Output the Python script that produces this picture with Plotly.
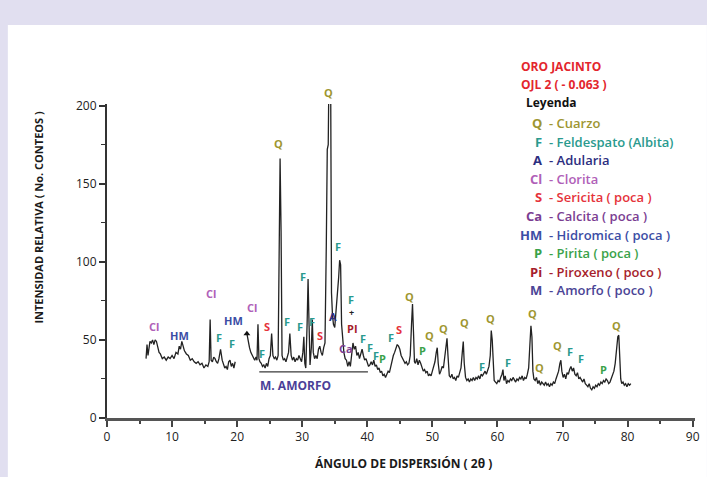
import plotly.graph_objects as go

# ---------------- data ----------------
seg1_x = [6.0, 6.15, 6.3, 6.45, 6.6, 6.8, 7.0, 7.2, 7.4, 7.6, 7.8, 8.0, 8.2, 8.5, 8.8, 9.1, 9.4, 9.7,
          10.0, 10.3, 10.6, 10.9, 11.1, 11.3, 11.5, 11.7, 11.9, 12.2, 12.5, 12.8, 13.1, 13.4, 13.7,
          14.0, 14.3, 14.6, 14.9, 15.2, 15.5, 15.7, 15.85, 16.0, 16.2, 16.4, 16.6, 16.8, 17.0, 17.2,
          17.45, 17.7, 17.9, 18.1, 18.3, 18.5, 18.7, 18.9, 19.1, 19.3, 19.5, 19.7]
seg1_y = [38, 47, 40, 46, 49, 48, 50, 47, 50, 49, 45, 42, 41, 38, 39, 37, 39, 38,
          40, 38, 42, 41, 46, 44, 49, 45, 43, 41, 40, 37, 38, 36, 35,
          36, 34, 35, 32, 34, 33, 36, 63, 37, 36, 39, 38, 36, 35, 38,
          44, 37, 34, 32, 33, 31, 36, 37, 33, 35, 32, 36]

seg2_x = [21.5, 21.7, 21.9, 22.1, 22.3, 22.5, 22.7, 22.9, 23.05, 23.2, 23.35, 23.5, 23.7, 23.9, 24.1,
          24.3, 24.5, 24.7, 24.9, 25.1, 25.3, 25.5, 25.7, 25.9, 26.1, 26.3, 26.45, 26.6, 26.75, 26.9,
          27.1, 27.3, 27.5, 27.7, 27.9, 28.1, 28.3, 28.5, 28.7, 28.9, 29.1, 29.3, 29.5, 29.7, 29.9,
          30.1, 30.25, 30.4, 30.55, 30.75, 30.9, 31.05, 31.2, 31.4, 31.55, 31.7, 31.9, 32.1, 32.3,
          32.5, 32.7, 32.9, 33.1, 33.3, 33.5, 33.7, 33.85, 34.0, 34.15, 34.35, 34.5, 34.65, 34.8,
          35.0, 35.2, 35.4, 35.6, 35.75, 35.9, 36.05, 36.2, 36.4, 36.6, 36.8, 37.0, 37.2, 37.4,
          37.6, 37.8, 38.0, 38.2, 38.4, 38.6, 38.8, 39.0, 39.2, 39.4, 39.6, 39.8, 40.0, 40.2, 40.4,
          40.6, 40.8, 41.0, 41.2, 41.4, 41.6, 41.8, 42.0, 42.2, 42.4, 42.6, 42.8, 43.0, 43.2, 43.4,
          43.6, 43.8, 44.0, 44.2, 44.4, 44.6, 44.8, 45.0, 45.2, 45.4, 45.6, 45.8, 46.0, 46.2, 46.4,
          46.6, 46.8, 46.95, 47.1, 47.25, 47.4, 47.6, 47.8, 48.0, 48.2, 48.4, 48.6, 48.8, 49.0,
          49.2, 49.4, 49.6, 49.8, 50.0, 50.2, 50.4, 50.6, 50.75, 50.9, 51.1, 51.3, 51.5, 51.7,
          51.9, 52.1, 52.25, 52.4, 52.6, 52.8, 53.0, 53.2, 53.4, 53.6, 53.8, 54.0, 54.2, 54.4,
          54.6, 54.75, 54.9, 55.1, 55.3, 55.5, 55.7, 55.9, 56.1, 56.3, 56.5, 56.7, 56.9, 57.1,
          57.3, 57.5, 57.7, 57.9, 58.1, 58.3, 58.5, 58.7, 58.9, 59.05, 59.2, 59.35, 59.5, 59.7,
          59.9, 60.1, 60.3, 60.5, 60.7, 60.85, 61.0, 61.2, 61.4, 61.6, 61.8, 62.0, 62.2, 62.4,
          62.6, 62.8, 63.0, 63.2, 63.4, 63.6, 63.8, 64.0, 64.2, 64.4, 64.6, 64.8, 65.0, 65.15,
          65.3, 65.45, 65.6, 65.8, 66.0, 66.2, 66.4, 66.6, 66.8, 67.0, 67.2, 67.4, 67.6, 67.8,
          68.0, 68.2, 68.4, 68.6, 68.8, 69.0, 69.2, 69.4, 69.6, 69.75, 69.9, 70.1, 70.3, 70.5,
          70.7, 70.9, 71.1, 71.3, 71.5, 71.7, 71.9, 72.1, 72.3, 72.5, 72.7, 72.9, 73.1, 73.3,
          73.5, 73.7, 73.9, 74.1, 74.3, 74.5, 74.7, 74.9, 75.1, 75.3, 75.5, 75.7, 75.9, 76.1,
          76.3, 76.5, 76.7, 76.9, 77.1, 77.3, 77.5, 77.7, 77.9, 78.1, 78.3, 78.5, 78.65, 78.8,
          78.95, 79.1, 79.3, 79.5, 79.7, 79.9, 80.1, 80.3, 80.5]
seg2_y = [54, 48, 45, 42, 40, 38, 37, 39, 37, 60, 38, 36, 35, 33, 34,
          32, 35, 33, 38, 40, 54, 40, 38, 39, 37, 40, 110, 166, 120, 40,
          37, 38, 36, 40, 42, 54, 40, 37, 39, 36, 38, 37, 40, 38, 36,
          42, 52, 35, 32, 60, 89, 60, 34, 45, 63, 42, 38, 40, 38,
          44, 46, 42, 40, 45, 48, 110, 172, 175, 240, 240, 80, 66, 60,
          58, 68, 75, 90, 101, 98, 60, 50, 42, 38, 37, 33, 36, 33,
          42, 48, 44, 46, 40, 42, 38, 41, 44, 40, 37, 38, 35, 33, 34,
          36, 34, 37, 33, 34, 31, 32, 29, 30, 27, 28, 26, 28, 30, 29,
          33, 36, 40, 42, 45, 47, 46, 44, 40, 38, 37, 35, 36, 34, 35,
          40, 60, 73, 55, 36, 35, 38, 34, 37, 35, 33, 30, 31, 29,
          30, 27, 28, 27, 30, 33, 36, 42, 45, 35, 28, 30, 33, 32,
          38, 44, 51, 40, 27, 26, 28, 25, 26, 24, 27, 26, 29, 32,
          42, 49, 35, 26, 24, 25, 23, 25, 24, 26, 24, 26, 25, 27,
          25, 28, 27, 29, 30, 28, 31, 33, 40, 56, 50, 30, 24, 23,
          22, 24, 23, 26, 28, 31, 24, 27, 22, 24, 23, 25, 24, 26,
          24, 23, 25, 24, 26, 25, 27, 24, 26, 25, 28, 32, 48, 59,
          52, 30, 25, 24, 26, 22, 24, 21, 23, 22, 21, 23, 21, 22,
          20, 22, 21, 23, 22, 25, 28, 30, 35, 37, 30, 26, 28, 25,
          29, 28, 31, 33, 30, 32, 28, 27, 29, 25, 26, 24, 23, 25,
          22, 21, 20, 22, 19, 18, 20, 19, 21, 20, 22, 21, 23, 22,
          24, 23, 25, 24, 22, 23, 25, 27, 30, 35, 45, 52, 53, 40,
          25, 22, 23, 21, 22, 20, 22, 21, 22]

arrow_x = [21.5]
arrow_y = [54]

amorfo_x = [23.4, 40.1]
amorfo_y = [29.5, 29.5]

# peak labels
lbl_text = ["Cl", "HM", "Cl", "F", "F", "HM", "Cl", "S", "F", "Q", "F", "F", "F", "F", "S", "Q",
            "A", "F", "F", "+", "PI", "Ca", "F", "F", "F", "P", "F", "S", "Q", "P", "Q", "Q", "Q",
            "Q", "F", "F", "Q", "Q", "Q", "F", "F", "P", "Q"]
lbl_min = ["Cl", "HM", "Cl", "F", "F", "HM", "Cl", "S", "F", "Q", "F", "F", "F", "F", "S", "Q",
           "A", "F", "F", "plus", "Pi", "Ca", "F", "F", "F", "P", "F", "S", "Q", "P", "Q", "Q", "Q",
           "Q", "F", "F", "Q", "Q", "Q", "F", "F", "P", "Q"]
lbl_x = [7.24, 11.12, 15.92, 17.22, 19.28, 19.5, 22.32, 24.58, 23.82, 26.36, 27.63, 30.17, 29.67,
         31.54, 32.72, 33.98, 34.74, 35.5, 37.53, 37.53, 37.79, 36.77, 39.31, 40.34, 41.34, 42.36,
         43.63, 44.9, 46.43, 48.46, 49.6, 51.66, 54.93, 58.97, 57.6, 61.67, 65.42, 66.54, 69.29,
         71.19, 72.84, 76.34, 78.28]
lbl_y = [58.6, 52.8, 79.7, 51.5, 47.4, 62.7, 70.7, 58.4, 41.4, 175.8, 61.6, 90.4, 58.4, 61.6, 53.1,
         208.5, 64.8, 109.6, 76.0, 67.5, 57.0, 44.6, 51.0, 45.1, 40.3, 38.2, 51.6, 56.8, 77.6, 42.9,
         53.1, 57.6, 61.4, 63.7, 32.8, 35.8, 67.0, 32.6, 46.1, 42.6, 38.2, 31.0, 59.2]

legend_sym = ["Q", "F", "A", "Cl", "S", "Ca", "HM", "P", "Pi", "M"]
legend_txt = ["- Cuarzo", "- Feldespato (Albita)", "- Adularia", "- Clorita", "- Sericita ( poca )",
              "- Calcita ( poca )", "- Hidromica ( poca )", "- Pirita ( poca )", "- Piroxeno ( poco )",
              "- Amorfo ( poco )"]
title_lines = ["ORO JACINTO", "OJL 2 ( - 0.063 )"]
legend_head = "Leyenda"
amorfo_text = "M. AMORFO"

x_title = "ÁNGULO DE DISPERSIÓN ( 2\u03b8 )"
y_title = "INTENSIDAD RELATIVA ( No. CONTEOS )"

colors = {"Q": "#9E9632", "F": "#2A9A8E", "A": "#2C2E80", "Cl": "#B060B8", "S": "#E5333B",
          "Ca": "#7B3E92", "HM": "#3C4EA5", "P": "#3AA24A", "Pi": "#A61E2C", "M": "#4B4596",
          "plus": "#222222"}

# ---------------- layout geometry ----------------
W, H = 707, 477
ML, MR, MT, MB = 107, 7, 104, 59
PW, PH = W - ML - MR, H - MT - MB
XPX, YPX = 6.5625, 1.5625   # pixels per unit
YMAX = PH / YPX
FONT = "Open Sans"


def px2paper_x(px):
    return (px - ML) / PW


def px2paper_y(py):
    return (H - MB - py) / PH


fig = go.Figure()

line_col = "#222222"
fig.add_trace(go.Scatter(x=seg1_x, y=seg1_y, mode="lines",
                         line=dict(color=line_col, width=1.3), showlegend=False, hoverinfo="skip"))
fig.add_trace(go.Scatter(x=seg2_x, y=seg2_y, mode="lines",
                         line=dict(color=line_col, width=1.3), showlegend=False, hoverinfo="skip"))
fig.add_trace(go.Scatter(x=amorfo_x, y=amorfo_y, mode="lines",
                         line=dict(color="#3a3a3a", width=1.2), showlegend=False, hoverinfo="skip"))
fig.add_trace(go.Scatter(x=arrow_x, y=arrow_y, mode="markers",
                         marker=dict(symbol="triangle-up", size=6, color="#111"),
                         showlegend=False, hoverinfo="skip"))

ann = []
for t, m, x, y in zip(lbl_text, lbl_min, lbl_x, lbl_y):
    size = 9 if m == "plus" else 11
    ann.append(dict(x=x, y=y / YMAX, xref="x", yref="paper", text="<b>%s</b>" % t, showarrow=False,
                    font=dict(family=FONT, size=size, color=colors[m]),
                    xanchor="center", yanchor="middle"))

ann.append(dict(x=28.9, y=21.1, xref="x", yref="y", text="<b>%s</b>" % amorfo_text, showarrow=False,
                font=dict(family=FONT, size=12, color="#4B3F98"), xanchor="center", yanchor="middle"))

# header + legend block
head_px = [67, 85]
for t, py in zip(title_lines, head_px):
    ann.append(dict(x=px2paper_x(522), y=px2paper_y(py), xref="paper", yref="paper",
                    text="<b>%s</b>" % t, showarrow=False, xanchor="left", yanchor="middle",
                    font=dict(family=FONT, size=12, color="#E3262D")))
ann.append(dict(x=px2paper_x(528), y=px2paper_y(103), xref="paper", yref="paper",
                text="<b>%s</b>" % legend_head, showarrow=False, xanchor="left", yanchor="middle",
                font=dict(family=FONT, size=12, color="#111111")))
row0, drow = 123, 18.6
for i, (s, t) in enumerate(zip(legend_sym, legend_txt)):
    py = row0 + i * drow
    c = colors[s]
    ann.append(dict(x=px2paper_x(548), y=px2paper_y(py), xref="paper", yref="paper",
                    text="<b>%s</b>" % s, showarrow=False, xanchor="right", yanchor="middle",
                    font=dict(family=FONT, size=13, color=c)))
    ann.append(dict(x=px2paper_x(551), y=px2paper_y(py), xref="paper", yref="paper",
                    text=t, showarrow=False, xanchor="left", yanchor="middle",
                    font=dict(family=FONT, size=13, color=c, weight=600)))

# axis titles
ann.append(dict(x=px2paper_x(406), y=px2paper_y(463), xref="paper", yref="paper",
                text="<b>%s</b>" % x_title, showarrow=False, xanchor="center", yanchor="middle",
                font=dict(family=FONT, size=12, color="#1a1a1a")))
ann.append(dict(x=px2paper_x(37), y=px2paper_y(217), xref="paper", yref="paper",
                text="<b>%s</b>" % y_title, showarrow=False, xanchor="center", yanchor="middle",
                textangle=-90, font=dict(family=FONT, size=11, color="#1a1a1a")))

# white card on lavender frame
shapes = [dict(type="rect", xref="paper", yref="paper", layer="below",
               x0=px2paper_x(7), x1=px2paper_x(W + 5), y0=px2paper_y(H + 5), y1=px2paper_y(25),
               fillcolor="white", line=dict(width=0))]

fig.update_layout(
    width=W, height=H, autosize=False,
    margin=dict(l=ML, r=MR, t=MT, b=MB, pad=0),
    paper_bgcolor="#E1DFF0", plot_bgcolor="rgba(0,0,0,0)",
    annotations=ann, shapes=shapes, showlegend=False,
    xaxis=dict(range=[0, PW / XPX], tickmode="linear", tick0=0, dtick=10,
               ticks="outside", ticklen=6, tickwidth=1.5, tickcolor="#444",
               minor=dict(dtick=5, ticks="outside", ticklen=3, tickcolor="#444", tickwidth=1.5),
               showline=True, linecolor="#555", linewidth=2.5, showgrid=False, zeroline=False,
               tickfont=dict(family=FONT, size=12, color="#222"), fixedrange=True),
    yaxis=dict(range=[0, YMAX], tickmode="linear", tick0=0, dtick=50,
               ticks="outside", ticklen=6, tickwidth=1.5, tickcolor="#333",
               minor=dict(dtick=25, ticks="outside", ticklen=4, tickcolor="#333", tickwidth=1.2),
               showline=True, linecolor="#333", linewidth=2, showgrid=False, zeroline=False,
               tickfont=dict(family=FONT, size=12, color="#222"), fixedrange=True),
)

fig.write_html("out.html", config={"displayModeBar": False},
               post_script="document.body.style.margin='0';document.body.style.overflow='hidden';")
